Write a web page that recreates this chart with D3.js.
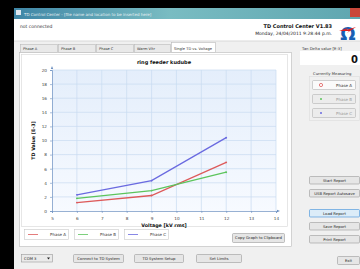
<!DOCTYPE html>
<html lang="en">
<head>
<meta charset="UTF-8">
<title>TD Control Center</title>
<script src="https://d3js.org/d3.v7.min.js"></script>
<style>
  body { margin: 0; background: #000; overflow: hidden; }
  svg { display: block; font-family: "DejaVu Sans", "Liberation Sans", sans-serif; }
</style>
</head>
<body>
<script>
// Chart data
const voltages = [6, 9, 12];
const phaseA = [1.2, 2.2, 6.9];
const phaseB = [1.8, 2.9, 5.5];
const phaseC = [2.3, 4.3, 10.4];
const seriesNames = ["Phase A", "Phase B", "Phase C"];
const seriesColors = ["#dd5a5a", "#5cc45c", "#6a6ae0"];
const xTicks = [5, 6, 7, 8, 9, 10, 11, 12, 13, 14];
const yTicks = [0, 2, 4, 6, 8, 10, 12, 14, 16, 18, 20];

// Window chrome labels
const tabLabels = ["Phase A", "Phase B", "Phase C", "Warm Vltr", "Single TD vs. Voltage"];
const sideButtons = ["Start Report", "USB Report Autosave", "Load Report", "Save Report", "Print Report"];
const bottomButtons = ["Connect to TD System", "TD System Setup", "Set Limits"];

const W = 360, H = 269;
const svg = d3.select("body").append("svg").attr("width", W).attr("height", H);

const defs = svg.append("defs");
const tb = defs.append("linearGradient").attr("id", "titlebar");
tb.append("stop").attr("offset", "0%").attr("stop-color", "#3f86a6");
tb.append("stop").attr("offset", "45%").attr("stop-color", "#79bcc2");
tb.append("stop").attr("offset", "100%").attr("stop-color", "#5fa6b0");
const pg = defs.append("linearGradient").attr("id", "plotbg").attr("x1", 0).attr("y1", 0).attr("x2", 0).attr("y2", 1);
pg.append("stop").attr("offset", "0%").attr("stop-color", "#e4eefb");
pg.append("stop").attr("offset", "100%").attr("stop-color", "#f7faff");

// window frame
svg.append("rect").attr("x", 14).attr("y", 8).attr("width", W - 14).attr("height", 11).attr("fill", "url(#titlebar)");
svg.append("rect").attr("x", 350).attr("y", 8).attr("width", 10).attr("height", 9).attr("fill", "#c9473a");
svg.append("rect").attr("x", 16).attr("y", 10).attr("width", 5).attr("height", 5).attr("fill", "#dfe8f0");
svg.append("text").attr("x", 24).attr("y", 15.5).attr("font-size", 4).attr("fill", "#e8f2f4")
  .text("TD Control Center - [file name and location to be inserted here]");
svg.append("rect").attr("x", 14).attr("y", 19).attr("width", W - 14).attr("height", H - 19).attr("fill", "#f0f0f0");
svg.append("rect").attr("x", 14).attr("y", 19).attr("width", W - 14).attr("height", 22).attr("fill", "#fff");
svg.append("line").attr("x1", 14).attr("x2", W).attr("y1", 41).attr("y2", 41).attr("stroke", "#d8d8d8");

svg.append("text").attr("x", 20).attr("y", 28).attr("font-size", 4.5).attr("fill", "#333").text("not connected");
svg.append("text").attr("x", 332).attr("y", 28).attr("font-size", 5).attr("font-weight", "bold")
  .attr("text-anchor", "end").attr("fill", "#111").text("TD Control Center V1.83");
svg.append("text").attr("x", 332).attr("y", 35).attr("font-size", 4.5)
  .attr("text-anchor", "end").attr("fill", "#222").text("Monday, 24/04/2011 9:28:44 p.m.");
// logo
svg.append("text").attr("x", 348).attr("y", 40).attr("font-size", 18).attr("text-anchor", "middle")
  .attr("fill", "#1a5fb4").attr("font-weight", "bold").text("Ω");
svg.append("path").attr("d", "M339,31 L348,28 L346,30 L356,27 L347,33 L349,31 Z").attr("fill", "#e02020");

// tabs
let tx = 20;
const tabW = [38, 38, 38, 37, 45];
tabLabels.forEach((t, i) => {
  const sel = i === tabLabels.length - 1;
  svg.append("rect").attr("x", tx + 0.5).attr("y", sel ? 42.5 : 44.5).attr("width", tabW[i] - 1)
    .attr("height", sel ? 10 : 8).attr("fill", sel ? "#fff" : "#e9e9e9").attr("stroke", "#b9b9b9").attr("stroke-width", 0.6);
  svg.append("text").attr("x", tx + 3).attr("y", 50).attr("font-size", 3.6).attr("fill", "#333").text(t);
  tx += tabW[i];
});

// tab page
svg.append("rect").attr("x", 19.5).attr("y", 52.5).attr("width", 272).attr("height", 194)
  .attr("fill", "#fff").attr("stroke", "#b9b9b9").attr("stroke-width", 0.6);
svg.append("rect").attr("x", 21.5).attr("y", 54.5).attr("width", 266).attr("height", 172)
  .attr("fill", "#fff").attr("stroke", "#d6d6d6").attr("stroke-width", 0.6);

// chart
const x = d3.scaleLinear().domain([5, 14]).range([52, 276]);
const y = d3.scaleLinear().domain([0, 20]).range([211, 70]);

svg.append("rect").attr("x", x(5)).attr("y", y(20)).attr("width", x(14) - x(5)).attr("height", y(0) - y(20))
  .attr("fill", "url(#plotbg)");

const grid = svg.append("g").attr("stroke", "#c9dbf0").attr("stroke-width", 0.7);
grid.selectAll("line.v").data(xTicks.slice(1)).join("line").attr("class", "v")
  .attr("x1", d => x(d)).attr("x2", d => x(d)).attr("y1", y(20)).attr("y2", y(0));
grid.selectAll("line.h").data(yTicks.slice(1)).join("line").attr("class", "h")
  .attr("x1", x(5)).attr("x2", x(14)).attr("y1", d => y(d)).attr("y2", d => y(d));

const xAxis = svg.append("g").attr("transform", `translate(0,${y(0)})`)
  .call(d3.axisBottom(x).tickValues(xTicks).tickSize(2).tickFormat(d3.format("d")));
const yAxis = svg.append("g").attr("transform", `translate(${x(5)},0)`)
  .call(d3.axisLeft(y).tickValues(yTicks).tickSize(2).tickFormat(d3.format("d")));
[xAxis, yAxis].forEach(a => {
  a.select(".domain").attr("stroke", "#6b8fc0").attr("stroke-width", 0.7);
  a.selectAll(".tick line").attr("stroke", "#6b8fc0").attr("stroke-width", 0.6);
  a.selectAll(".tick text").attr("font-size", 4.2).attr("fill", "#444").attr("font-family", "DejaVu Sans, sans-serif");
});
xAxis.selectAll(".tick text").attr("dy", "0.9em");
// arrow heads at axis ends
svg.append("path").attr("d", `M${x(5) - 1.2},${y(20) - 1} L${x(5)},${y(20) - 4} L${x(5) + 1.2},${y(20) - 1} Z`).attr("fill", "#6b8fc0");
svg.append("path").attr("d", `M${x(14) + 1},${y(0) - 1.2} L${x(14) + 4},${y(0)} L${x(14) + 1},${y(0) + 1.2} Z`).attr("fill", "#6b8fc0");

svg.append("text").attr("x", 164).attr("y", 64).attr("font-size", 5).attr("font-weight", "bold")
  .attr("text-anchor", "middle").attr("fill", "#111").text("ring feeder kudube");
svg.append("text").attr("x", 164).attr("y", 227).attr("font-size", 4.8).attr("font-weight", "bold")
  .attr("text-anchor", "middle").attr("fill", "#111").text("Voltage [kV rms]");
svg.append("text").attr("transform", `translate(35,${(y(0) + y(20)) / 2}) rotate(-90)`).attr("font-size", 4.8)
  .attr("font-weight", "bold").attr("text-anchor", "middle").attr("fill", "#111").text("TD Value [E-3]");

const series = [phaseA, phaseB, phaseC];
const line = d3.line().x((d, i) => x(voltages[i])).y(d => y(d));
series.forEach((s, k) => {
  svg.append("path").datum(s).attr("d", line).attr("fill", "none")
    .attr("stroke", seriesColors[k]).attr("stroke-width", 1.3);
  svg.selectAll(null).data(s).join("circle").attr("cx", (d, i) => x(voltages[i])).attr("cy", d => y(d))
    .attr("r", 0.9).attr("fill", seriesColors[k]);
});

// legend
seriesNames.forEach((n, k) => {
  const lx = 24 + k * 50;
  svg.append("rect").attr("x", lx + 0.5).attr("y", 229.5).attr("width", 44).attr("height", 10)
    .attr("fill", "#fff").attr("stroke", "#c8c8c8").attr("stroke-width", 0.6);
  svg.append("line").attr("x1", lx + 4).attr("x2", lx + 14).attr("y1", 234.5).attr("y2", 234.5)
    .attr("stroke", seriesColors[k]).attr("stroke-width", 0.8);
  svg.append("text").attr("x", lx + 42).attr("y", 236).attr("font-size", 4).attr("text-anchor", "end")
    .attr("fill", "#333").text(n);
});

function button(bx, by, bw, bh, label, opts = {}) {
  svg.append("rect").attr("x", bx + 0.5).attr("y", by + 0.5).attr("width", bw).attr("height", bh).attr("rx", 1)
    .attr("fill", opts.fill || "#e6e6e6").attr("stroke", opts.stroke || "#9a9a9a").attr("stroke-width", 0.6);
  svg.append("text").attr("x", bx + bw / 2 + 0.5).attr("y", by + bh / 2 + 1.9).attr("font-size", 3.8)
    .attr("text-anchor", "middle").attr("fill", opts.color || "#222").text(label);
}

button(232, 233, 52, 9, "Copy Graph to Clipboard");

// right panel
svg.append("text").attr("x", 302).attr("y", 49.5).attr("font-size", 3.8).attr("fill", "#333").text("Tan Delta value [E-3]");
svg.append("rect").attr("x", 300).attr("y", 51).attr("width", 60).attr("height", 14).attr("fill", "#fff");
svg.append("text").attr("x", 358).attr("y", 63).attr("font-size", 10).attr("font-weight", "bold")
  .attr("text-anchor", "end").attr("fill", "#111").text("0");
svg.append("text").attr("x", 313).attr("y", 75).attr("font-size", 3.8).attr("fill", "#333").text("Currently Measuring");
svg.append("rect").attr("x", 309.5).attr("y", 76.5).attr("width", 50).attr("height", 44)
  .attr("fill", "none").attr("stroke", "#dcdcdc").attr("stroke-width", 0.6);
seriesNames.forEach((n, k) => {
  const by = 80 + k * 14;
  button(312, by, 43, 9, "", { fill: k === 0 ? "#fafafa" : "#ececec", stroke: "#b4b4b4" });
  svg.append("circle").attr("cx", 321).attr("cy", by + 5).attr("r", k === 0 ? 1.6 : 1)
    .attr("fill", k === 0 ? "#fff" : seriesColors[k]).attr("stroke", seriesColors[k]).attr("stroke-width", k === 0 ? 0.8 : 0);
  svg.append("text").attr("x", 352).attr("y", by + 6.5).attr("font-size", 4).attr("text-anchor", "end")
    .attr("fill", k === 0 ? "#333" : "#999").text(n);
});

const sideY = [176, 189, 209, 222, 235];
sideButtons.forEach((b, i) => {
  button(309, sideY[i], 50, 7.5, b, i === 2 ? { fill: "#dcecf8", stroke: "#3c8ed8" } : {});
});
button(337, 256, 22, 8, "Exit");

// bottom bar
svg.append("rect").attr("x", 21.5).attr("y", 254.5).attr("width", 31).attr("height", 7.5)
  .attr("fill", "#eaeaea").attr("stroke", "#9a9a9a").attr("stroke-width", 0.6);
svg.append("text").attr("x", 24).attr("y", 259.8).attr("font-size", 3.8).attr("fill", "#222").text("COM 3");
svg.append("path").attr("d", "M47,257.5 L50,257.5 L48.5,259.5 Z").attr("fill", "#222");
const bottomX = [73, 134, 196], bottomW = [50, 49, 45];
bottomButtons.forEach((b, i) => button(bottomX[i], 254, bottomW[i], 8, b));
</script>
</body>
</html>
